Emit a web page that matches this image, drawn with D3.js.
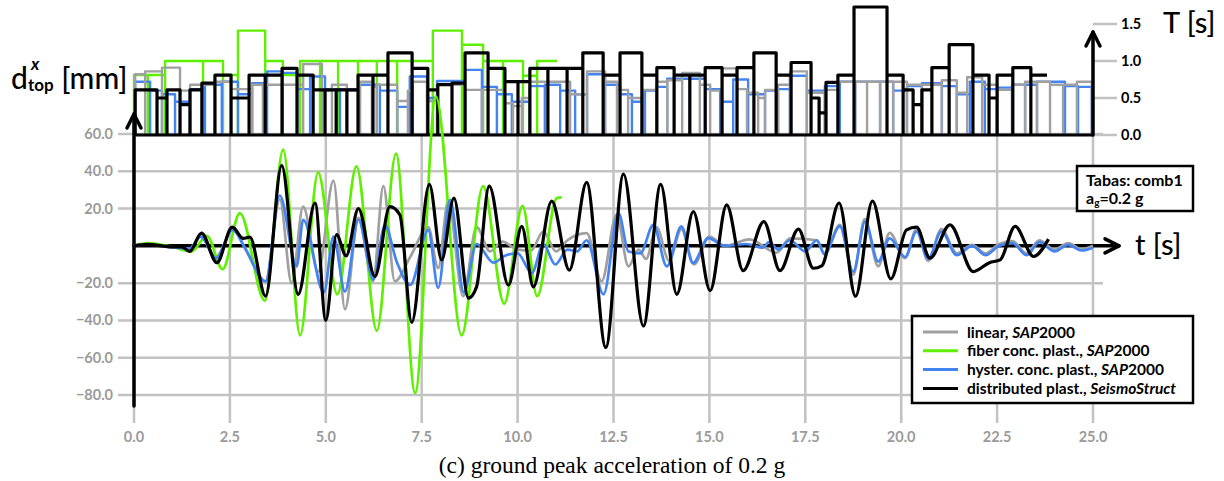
<!DOCTYPE html>
<html>
<head>
<meta charset="utf-8">
<script src="https://cdn.jsdelivr.net/npm/d3@7"></script>
<style>
  body { margin: 0; background: #fff; }
  svg { display: block; font-family: Lato, "Open Sans", sans-serif; }
</style>
</head>
<body>
<div id="chart"></div>
<script>
'use strict';

// displacement time histories [t (s), d (mm)]
const linearSeries = [[0,0],[0.35,1],[0.9,-0.5],[1.45,-1.5],[1.74,5],[2.14,-6],[2.59,9.5],[2.89,-1.2],[3.43,-19],[3.8,25],[4.11,-20],[4.41,21],[4.8,-14],[5.2,35],[5.5,-34],[5.85,15],[6.23,-19],[6.5,32],[6.8,-19],[7.2,-6],[7.67,10],[7.93,-12],[8.19,24],[8.58,-27],[8.93,10],[9.28,-3],[9.6,2.3],[10.0,-2],[10.35,-2.5],[10.67,7.7],[11.0,-3],[11.3,3],[11.8,6.8],[12.19,-19],[12.58,16.7],[12.89,-11],[13.15,-2],[13.35,-7],[13.62,10],[13.95,-8],[14.27,9],[14.6,-10],[15.0,5],[15.4,0],[16.05,3.5],[16.75,-3.7],[17.1,4],[17.8,3],[18.0,-4],[18.4,11.3],[18.75,-15.5],[19.05,14.3],[19.4,-11],[19.7,7],[20.1,-6.6],[20.4,9],[20.7,-8],[21.05,9],[21.45,-4],[21.85,0.5],[22.2,-4],[22.55,1],[22.9,2.5],[23.27,-4],[23.6,3],[24.0,-2],[24.35,1.5],[24.7,-1.8],[25,0]];
const fiberSeries = [[0,0],[0.35,1.5],[1.0,-0.5],[1.5,-3],[1.9,5.4],[2.31,-12.5],[2.76,17.6],[3.41,-29.4],[3.89,51.6],[4.33,-48],[4.8,39.4],[5.3,-26],[5.8,42.6],[6.33,-45.5],[6.83,49.5],[7.33,-79],[7.87,80],[8.54,-48],[9.1,32],[9.65,-31],[10.13,21.5],[10.51,-27],[11.02,25.6],[11.15,26]];
const hysterSeries = [[0,0],[0.35,0.8],[0.9,-0.5],[1.45,-1.5],[1.74,5],[2.14,-6.6],[2.57,8.6],[2.89,-1],[3.43,-19],[3.8,27],[4.24,-11],[4.41,14],[4.95,-25],[5.2,5],[5.5,-24.5],[5.85,14],[6.24,-18],[6.54,11],[6.85,-8.6],[7.2,-21],[7.67,8.6],[7.93,-22.6],[8.24,24.7],[8.6,-25],[8.93,1],[9.37,-9],[9.7,-5],[10.0,-4],[10.37,-14.6],[10.67,1],[10.98,-10],[11.3,-2],[11.55,-3],[11.8,3],[12.24,-26],[12.63,17.6],[12.89,-3],[13.2,-4],[13.54,11.3],[13.89,-11],[14.27,10.4],[14.57,-9.3],[14.97,4.1],[15.4,0],[15.7,0.5],[15.95,1],[16.4,-1],[16.55,2],[16.8,-2],[17.1,3],[17.5,-3],[17.8,3],[18.0,-4.5],[18.4,10.4],[18.75,-13.8],[19.06,13],[19.4,-8.4],[19.7,4],[20.1,-6],[20.4,7.7],[20.7,-7],[21.05,7.7],[21.45,-5],[21.85,0],[22.2,-5],[22.55,0],[22.9,1.5],[23.27,-5],[23.6,2],[24.0,-3],[24.35,0.5],[24.7,-2.5],[25,-1]];
const distribSeries = [[0,0],[0.35,0.8],[1.0,-0.5],[1.25,-0.5],[1.45,-3],[1.76,6.8],[2.16,-9],[2.56,10],[2.85,4],[3.02,4.7],[3.43,-27],[3.85,43],[4.28,-26],[4.72,23],[5.0,-40],[5.28,6],[5.53,-5.4],[5.85,20],[6.28,-16.5],[6.67,21],[6.93,16.7],[7.24,-41],[7.7,33],[8.02,-7.5],[8.34,25.6],[8.72,-28],[8.93,-22],[9.26,32],[9.76,-21],[10.11,10.4],[10.41,-22],[10.89,24],[11.35,-13],[11.8,34],[12.3,-54.5],[12.76,38.5],[13.28,-43],[13.73,33],[14.15,-26],[14.58,18.4],[15.02,-24],[15.45,22],[15.88,-13.3],[16.42,13],[16.84,-13.3],[17.32,9],[17.71,-12],[17.93,-10.7],[18.38,23],[18.81,-27],[19.25,24],[19.73,-17.7],[20.14,8.6],[20.4,10],[20.75,-6.6],[21.27,11.3],[21.88,-13.8],[22.3,-9],[22.58,-7.5],[22.97,10.4],[23.45,-5.7],[23.84,3.6]];

// instantaneous periods: window edges (s) and period T (s) per window
const linearEdges = [0.03,0.29,0.73,1.20,1.46,1.77,2.11,2.53,3.08,3.36,3.86,4.41,4.90,5.16,5.55,5.89,6.20,6.33,6.86,7.14,7.27,7.64,7.90,8.63,9.07,9.67,9.88,10.11,10.32,10.79,11.37,11.81,12.28,12.59,12.88,13.27,13.63,13.90,14.29,14.75,15.02,15.33,15.72,15.98,16.27,16.45,16.79,17.10,17.54,18.01,18.35,18.80,19.11,19.45,19.79,20.15,20.54,21.06,21.45,21.72,22.11,22.50,22.89,23.23,23.54,23.88,24.22,24.58,24.97];
const linearPeriods = [0.82,0.86,0.91,0.6,0.68,0.68,0.72,0.62,0.68,0.68,0.68,0.96,0.6,0.68,0.6,0.72,0.65,0.68,0.46,0.6,0.72,0.46,0.68,0.61,0.61,0.43,0.39,0.5,0.72,0.72,0.55,0.86,0.72,0.61,0.5,0.61,0.72,0.74,0.84,0.68,0.6,0.9,0.62,0.57,0.5,0.61,0.68,0.86,0.57,0.61,0.72,0.72,0.72,0.72,0.72,0.68,0.68,0.74,0.57,0.78,0.68,0.61,0.68,0.72,0.72,0.68,0.68,0.72];
const fiberEdges = [0.0,0.36,0.81,1.80,2.32,2.71,3.42,3.88,4.33,4.85,5.32,5.84,6.33,6.86,7.79,8.55,9.10,9.62,10.14,10.51,11.03];
const fiberPeriods = [0.81,0.81,1.0,1.0,0.81,1.41,1.0,0.81,1.0,1.0,1.0,1.0,1.0,1.0,1.41,1.22,1.0,1.0,0.80,1.0];
const hysterEdges = [0.03,0.42,0.73,1.07,1.46,1.85,2.29,2.71,3.08,3.47,3.86,4.25,4.59,4.98,5.37,5.89,6.41,6.86,7.19,7.64,7.90,8.63,9.07,9.46,9.85,10.32,10.71,11.11,11.50,11.81,12.28,12.67,12.98,13.32,13.63,13.90,14.49,14.89,15.28,15.62,16.01,16.45,16.79,17.10,17.54,18.01,18.40,18.80,19.45,19.79,20.15,20.54,21.06,21.45,21.79,22.18,22.50,22.89,23.23,23.54,24.27,24.61,24.97];
const hysterPeriods = [0.72,0.6,0.55,0.45,0.62,0.68,0.72,0.55,0.7,0.86,0.84,0.62,0.79,0.62,0.62,0.68,0.6,0.38,0.79,0.5,0.73,0.88,0.65,0.55,0.45,0.66,0.68,0.6,0.55,0.82,0.68,0.55,0.45,0.6,0.65,0.76,0.76,0.62,0.45,0.75,0.55,0.6,0.62,0.8,0.6,0.66,0.72,0.72,0.72,0.6,0.66,0.7,0.66,0.55,0.72,0.62,0.64,0.68,0.68,0.72,0.66,0.65];
const distribEdges = [0.03,0.60,0.86,1.20,1.46,1.77,2.11,2.53,3.00,3.42,3.86,4.25,4.67,4.98,5.27,5.55,5.84,6.23,6.62,7.25,7.66,7.92,8.29,8.63,9.23,9.67,10.01,10.32,10.79,11.29,11.70,12.23,12.67,13.24,13.63,14.08,14.49,14.89,15.33,15.72,16.16,16.74,17.13,17.65,17.86,18.04,18.35,18.77,19.63,20.05,20.31,20.54,20.80,21.25,21.87,22.29,22.50,22.91,23.38,23.80];
const distribPeriods = [0.61,0.50,0.61,0.41,0.61,0.70,0.81,0.50,0.81,0.81,0.90,0.81,0.61,0.61,0.61,0.61,0.81,0.81,1.11,0.90,0.61,0.68,0.70,1.11,0.90,0.72,0.72,0.90,0.90,0.90,1.11,0.81,1.11,0.81,0.91,0.81,0.81,0.91,0.81,0.91,1.11,0.81,0.98,0.50,0.30,0.71,0.81,1.73,0.81,0.61,0.41,0.61,0.91,1.22,0.81,0.50,0.81,0.91,0.81];

const dispTicks = [60, 40, 20, -20, -40, -60, -80];
const timeTicks = [0, 2.5, 5, 7.5, 10, 12.5, 15, 17.5, 20, 22.5, 25];
const periodTicks = [0, 0.5, 1.0, 1.5];

const seriesInfo = [
  {name: 'linear, ', tool: 'SAP', rest: '2000', color: '#a0a0a0', width: 2.7, data: linearSeries, edges: linearEdges, periods: linearPeriods, open: false},
  {name: 'fiber conc. plast., ', tool: 'SAP', rest: '2000', color: '#5ef000', width: 2.7, data: fiberSeries, edges: fiberEdges, periods: fiberPeriods, open: true},
  {name: 'hyster. conc. plast., ', tool: 'SAP', rest: '2000', color: '#4384f0', width: 2.7, data: hysterSeries, edges: hysterEdges, periods: hysterPeriods, open: false},
  {name: 'distributed plast., ', tool: 'SeismoStruct', rest: '', color: '#000', width: 3.2, data: distribSeries, edges: distribEdges, periods: distribPeriods, open: true}
];

const width = 1224, height = 481;
const gridColor = '#c2c2c2';
const tickColor = '#9a9a9a';

const svg = d3.select('#chart').append('svg')
  .attr('width', width)
  .attr('height', height);

const x = d3.scaleLinear().domain([0, 25]).range([134, 1093]);
const y = d3.scaleLinear().domain([-80, 60]).range([395, 134]);
const yT = d3.scaleLinear().domain([0, 1.5]).range([135, 24]);

// grid
const grid = svg.append('g');
grid.selectAll('.hgrid')
  .data(dispTicks)
  .enter().append('line')
    .attr('x1', x(0) - 16).attr('x2', x(25) + 10)
    .attr('y1', (d) => y(d)).attr('y2', (d) => y(d))
    .attr('stroke', gridColor).attr('stroke-width', 2.5);
grid.selectAll('.vgrid')
  .data(timeTicks)
  .enter().append('line')
    .attr('x1', (d) => x(d)).attr('x2', (d) => x(d))
    .attr('y1', y(60)).attr('y2', y(-80) + 28)
    .attr('stroke', gridColor).attr('stroke-width', 2.5);
grid.selectAll('.tgrid')
  .data(periodTicks)
  .enter().append('line')
    .attr('x1', x(25)).attr('x2', x(25) + 24)
    .attr('y1', (d) => yT(d)).attr('y2', (d) => yT(d))
    .attr('stroke', gridColor).attr('stroke-width', 2.5);

// tick labels
svg.append('g').selectAll('text')
  .data(dispTicks)
  .enter().append('text')
    .attr('x', x(0) - 21).attr('y', (d) => y(d) + 5)
    .attr('text-anchor', 'end')
    .attr('font-size', 14.5).attr('font-weight', 'bold').attr('fill', tickColor)
    .text((d) => d3.format('.1f')(d));
svg.append('g').selectAll('text')
  .data(timeTicks)
  .enter().append('text')
    .attr('x', (d) => x(d)).attr('y', 442)
    .attr('text-anchor', 'middle')
    .attr('font-size', 14.5).attr('font-weight', 'bold').attr('fill', tickColor)
    .text((d) => d3.format('.1f')(d));
svg.append('g').selectAll('text')
  .data(periodTicks)
  .enter().append('text')
    .attr('x', x(25) + 28).attr('y', (d) => yT(d) + 5)
    .attr('font-size', 14.5).attr('font-weight', 'bold').attr('fill', '#000')
    .text((d) => d3.format('.1f')(d));

// period bars (outlines, drawn back to front)
const barOrder = [1, 2, 0, 3];
barOrder.forEach((k) => {
  const s = seriesInfo[k];
  let p = '';
  s.periods.forEach((T, i) => {
    const x0 = x(s.edges[i]), x1 = x(s.edges[i + 1]);
    p += `M${x0},${yT(0)}V${yT(T)}H${x1}`;
    if (!(s.open && i === s.periods.length - 1)) p += `V${yT(0)}`;
  });
  svg.append('path')
    .attr('d', p)
    .attr('fill', 'none')
    .attr('stroke', s.color)
    .attr('stroke-width', k === 3 ? 3.2 : 2.4)
    .attr('stroke-linejoin', 'round');
});

// baseline of period axis
svg.append('line')
  .attr('x1', x(0)).attr('x2', x(25))
  .attr('y1', yT(0)).attr('y2', yT(0))
  .attr('stroke', '#000').attr('stroke-width', 3);

// axes with arrows
const axes = svg.append('g')
  .attr('fill', 'none').attr('stroke', '#000').attr('stroke-width', 3.5)
  .attr('stroke-linecap', 'round').attr('stroke-linejoin', 'round');
axes.append('path').attr('d', `M${x(0)},${y(-80) + 11}V${y(60) - 20}`);
axes.append('path').attr('d', `M${x(0) - 7},${y(60) - 6}L${x(0)},${y(60) - 20}L${x(0) + 7},${y(60) - 6}`);
axes.append('path').attr('d', `M${x(25)},${yT(0)}V${yT(1.5) + 8}`);
axes.append('path').attr('d', `M${x(25) - 7},${yT(1.5) + 22}L${x(25)},${yT(1.5) + 8}L${x(25) + 7},${yT(1.5) + 22}`);
axes.append('path').attr('d', `M${x(0)},${y(0)}H${x(25) + 26}`);
axes.append('path').attr('d', `M${x(25) + 12},${y(0) - 7}L${x(25) + 26},${y(0)}L${x(25) + 12},${y(0) + 7}`);

// displacement lines
const line = d3.line()
  .x((d) => x(d[0]))
  .y((d) => y(d[1]))
  .curve(d3.curveMonotoneX);
[0, 1, 2, 3].forEach((k) => {
  const s = seriesInfo[k];
  svg.append('path')
    .datum(s.data)
    .attr('d', line)
    .attr('fill', 'none')
    .attr('stroke', s.color)
    .attr('stroke-width', s.width)
    .attr('stroke-linejoin', 'round');
});

// axis titles
const dLabel = svg.append('text')
  .attr('x', 11).attr('y', 89)
  .attr('font-size', 30).attr('font-weight', 500).attr('fill', '#000');
dLabel.append('tspan').text('d');
dLabel.append('tspan').attr('font-size', 17).attr('font-weight', 'bold').attr('dy', 2).text('top');
dLabel.append('tspan').attr('dy', -2).text(' [mm]');
svg.append('text')
  .attr('x', 31).attr('y', 70)
  .attr('font-size', 17).attr('font-weight', 'bold').attr('font-style', 'italic')
  .text('x');

svg.append('text')
  .attr('x', x(25) + 70).attr('y', 33)
  .attr('font-size', 29).attr('font-weight', 500).attr('fill', '#000')
  .text('T [s]');
svg.append('text')
  .attr('x', x(25) + 42).attr('y', y(0) + 9)
  .attr('font-size', 29).attr('font-weight', 500).attr('fill', '#000')
  .text('t [s]');

// info box
const info = svg.append('g');
info.append('rect')
  .attr('x', 1077).attr('y', 166).attr('width', 116).attr('height', 45)
  .attr('fill', '#fff').attr('stroke', '#000').attr('stroke-width', 2.5);
info.append('text')
  .attr('x', 1086).attr('y', 186)
  .attr('font-size', 16).attr('font-weight', 'bold')
  .text('Tabas: comb1');
const ag = info.append('text')
  .attr('x', 1086).attr('y', 204)
  .attr('font-size', 16).attr('font-weight', 'bold');
ag.append('tspan').text('a');
ag.append('tspan').attr('font-size', 10).attr('dy', 2).text('g');
ag.append('tspan').attr('dy', -2).text('=0.2 g');

// legend
const legend = svg.append('g');
legend.append('rect')
  .attr('x', 912).attr('y', 316).attr('width', 281).attr('height', 87)
  .attr('fill', '#fff').attr('stroke', '#000').attr('stroke-width', 2.5);
const rows = legend.selectAll('.row')
  .data(seriesInfo)
  .enter().append('g')
    .attr('transform', (d, i) => `translate(923, ${332 + i * 18.8})`);
rows.append('line')
  .attr('x1', 0).attr('x2', 35)
  .attr('stroke', (d) => d.color).attr('stroke-width', 3);
const lt = rows.append('text')
  .attr('x', 44).attr('y', 5.5)
  .attr('font-size', 15.5).attr('font-weight', 'bold');
lt.append('tspan').text((d) => d.name);
lt.append('tspan').attr('font-style', 'italic').text((d) => d.tool);
lt.append('tspan').text((d) => d.rest);

// caption
svg.append('text')
  .attr('x', 612).attr('y', 473)
  .attr('text-anchor', 'middle')
  .attr('font-family', '"Liberation Serif", "DejaVu Serif", serif')
  .attr('font-size', 23.5)
  .text('(c) ground peak acceleration of 0.2 g');
</script>
</body>
</html>
